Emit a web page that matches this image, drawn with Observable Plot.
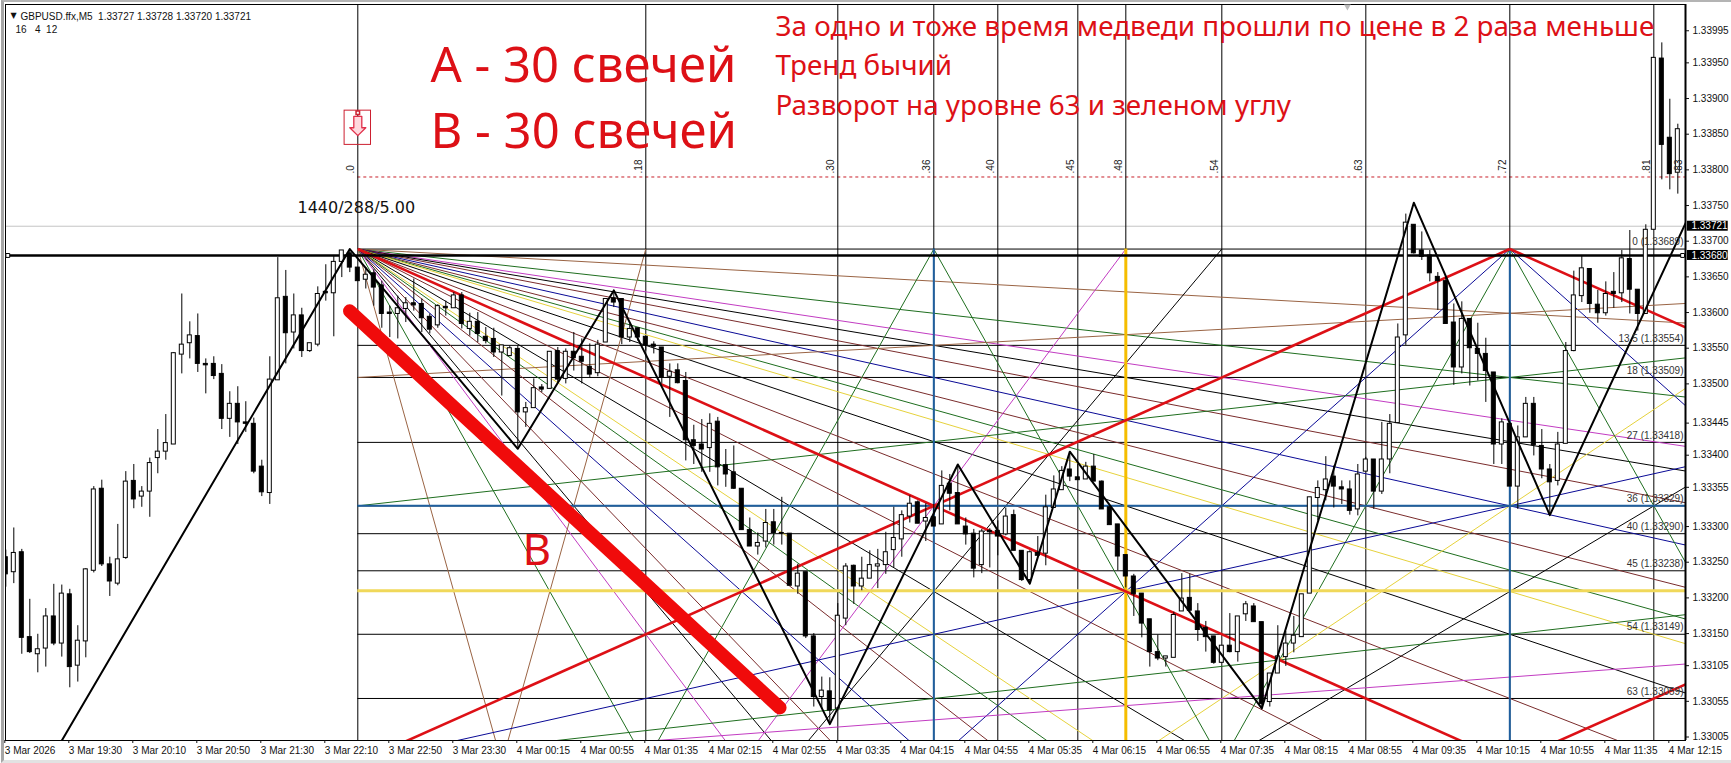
<!DOCTYPE html>
<html>
<head>
<meta charset="utf-8">
<style>
html,body{margin:0;padding:0;background:#fff;overflow:hidden}
#wrap{position:relative;width:1731px;height:763px;overflow:hidden}
#wrap svg{display:block}
#edge{position:absolute;left:1px;top:0;right:0;bottom:0;border-left:3px solid #a6a6a6;border-top:2px solid #b4b4b4;border-bottom:3px solid #e2e2e2;pointer-events:none}
</style>
<script src="https://cdn.jsdelivr.net/npm/d3@7"></script>
<script src="https://cdn.jsdelivr.net/npm/@observablehq/plot@0.6"></script>
</head>
<body>
<div id="wrap"><div id="edge"></div></div>
<script>
// Candle values, in points: 33689 stands for 1.33689
const opens=[33257,33236,33264,33145,33121,33129,33174,33136,33205,33105,33139,33238,33353,33247,33220,33256,33364,33342,33349,33396,33405,33415,33541,33557,33567,33528,33528,33514,33451,33472,33446,33444,33384,33347,33505,33622,33572,33596,33546,33555,33629,33627,33671,33683,33663,33646,33655,33638,33600,33598,33605,33613,33612,33594,33582,33608,33606,33624,33577,33587,33566,33563,33544,33539,33549,33460,33466,33495,33493,33546,33507,33545,33538,33524,33515,33558,33620,33619,33565,33578,33566,33555,33551,33510,33519,33504,33421,33415,33410,33447,33386,33376,33353,33295,33272,33279,33306,33291,33290,33216,33236,33146,33061,33069,33045,33171,33245,33216,33227,33244,33246,33267,33282,33314,33334,33307,33313,33303,33360,33347,33300,33290,33246,33294,33294,33289,33316,33266,33225,33263,33262,33326,33351,33380,33369,33366,33384,33363,33327,33303,33260,33230,33206,33170,33124,33115,33116,33181,33200,33181,33158,33146,33109,33133,33124,33177,33188,33166,33054,33094,33117,33136,33145,33206,33340,33351,33370,33355,33352,33324,33377,33394,33349,33394,33445,33568,33723,33687,33680,33650,33644,33586,33523,33591,33549,33542,33516,33415,33444,33356,33425,33472,33413,33380,33364,33416,33546,33623,33661,33611,33599,33629,33627,33675,33632,33598,33716,33956,33845,33796];
const closes=[33233,33263,33144,33124,33128,33174,33136,33206,33103,33140,33240,33352,33247,33223,33254,33363,33338,33349,33389,33405,33417,33543,33555,33568,33528,33526,33511,33451,33472,33446,33444,33377,33348,33506,33620,33571,33596,33546,33557,33626,33627,33671,33687,33663,33644,33653,33635,33598,33598,33606,33613,33610,33592,33576,33609,33606,33624,33584,33587,33570,33560,33544,33554,33550,33460,33466,33494,33492,33545,33506,33545,33536,33531,33513,33555,33619,33614,33565,33577,33565,33554,33552,33509,33517,33501,33421,33413,33408,33444,33383,33373,33353,33295,33272,33277,33305,33291,33290,33217,33234,33146,33061,33070,33042,33175,33244,33216,33227,33246,33247,33264,33284,33316,33332,33304,33312,33300,33357,33346,33303,33289,33241,33293,33292,33286,33314,33266,33225,33264,33259,33327,33352,33378,33370,33365,33384,33363,33324,33302,33258,33230,33205,33164,33124,33115,33118,33176,33199,33182,33155,33145,33109,33133,33124,33174,33191,33166,33051,33094,33118,33136,33147,33205,33341,33354,33366,33356,33352,33322,33373,33394,33349,33394,33444,33565,33726,33683,33678,33655,33644,33584,33523,33591,33550,33542,33518,33415,33446,33356,33425,33472,33414,33380,33362,33415,33546,33624,33662,33612,33599,33626,33626,33676,33632,33598,33716,33957,33835,33794,33857];
const highs=[33267,33298,33268,33198,33149,33185,33219,33218,33212,33161,33241,33356,33365,33257,33303,33377,33387,33356,33396,33436,33457,33544,33626,33587,33598,33535,33538,33527,33489,33496,33475,33452,33393,33538,33677,33659,33626,33606,33557,33636,33667,33680,33687,33689,33663,33663,33660,33644,33609,33623,33621,33647,33619,33598,33611,33616,33628,33628,33599,33600,33579,33578,33554,33553,33553,33474,33507,33499,33545,33551,33549,33572,33563,33556,33561,33619,33631,33619,33584,33578,33566,33559,33551,33528,33528,33516,33442,33450,33458,33453,33408,33413,33353,33312,33291,33324,33324,33341,33290,33247,33236,33150,33089,33088,33192,33248,33246,33257,33266,33268,33292,33327,33322,33343,33336,33332,33331,33378,33373,33386,33312,33296,33296,33297,33308,33326,33323,33266,33266,33286,33344,33371,33384,33405,33387,33390,33401,33364,33328,33303,33260,33233,33206,33170,33148,33118,33180,33234,33233,33192,33167,33146,33133,33178,33174,33195,33192,33166,33094,33161,33153,33174,33205,33341,33364,33398,33385,33364,33364,33387,33397,33394,33446,33457,33584,33738,33723,33713,33687,33656,33649,33612,33615,33591,33585,33564,33516,33451,33444,33441,33481,33481,33436,33387,33432,33558,33658,33680,33661,33631,33643,33656,33687,33715,33632,33723,33957,33978,33899,33864];
const lows=[33215,33220,33121,33122,33095,33103,33133,33117,33074,33082,33116,33235,33244,33202,33217,33254,33325,33327,33313,33374,33393,33415,33514,33535,33516,33486,33506,33436,33425,33415,33432,33374,33342,33331,33505,33528,33549,33537,33544,33552,33616,33566,33649,33656,33644,33633,33609,33578,33565,33563,33586,33602,33572,33570,33578,33595,33606,33577,33567,33558,33556,33537,33483,33538,33411,33439,33466,33488,33493,33502,33500,33518,33500,33509,33510,33558,33607,33555,33558,33560,33546,33542,33500,33453,33500,33392,33387,33376,33376,33357,33355,33352,33295,33272,33260,33270,33274,33274,33217,33205,33143,33047,33044,33025,33041,33161,33191,33210,33227,33213,33233,33242,33257,33305,33304,33279,33300,33303,33322,33303,33274,33228,33234,33242,33259,33287,33266,33223,33220,33259,33245,33326,33351,33363,33365,33366,33363,33324,33302,33238,33214,33174,33144,33103,33112,33103,33116,33181,33182,33139,33124,33107,33109,33123,33110,33167,33166,33046,33047,33094,33104,33123,33145,33206,33308,33336,33326,33331,33316,33315,33377,33324,33345,33374,33445,33554,33682,33673,33643,33603,33584,33498,33514,33497,33504,33474,33387,33387,33356,33324,33425,33399,33367,33317,33357,33416,33545,33614,33599,33585,33595,33606,33614,33598,33574,33598,33716,33786,33772,33766];
const timeLabels=["3 Mar 2026","3 Mar 19:30","3 Mar 20:10","3 Mar 20:50","3 Mar 21:30","3 Mar 22:10","3 Mar 22:50","3 Mar 23:30","4 Mar 00:15","4 Mar 00:55","4 Mar 01:35","4 Mar 02:15","4 Mar 02:55","4 Mar 03:35","4 Mar 04:15","4 Mar 04:55","4 Mar 05:35","4 Mar 06:15","4 Mar 06:55","4 Mar 07:35","4 Mar 08:15","4 Mar 08:55","4 Mar 09:35","4 Mar 10:15","4 Mar 10:55","4 Mar 11:35","4 Mar 12:15"];
const priceTicks=[33995,33950,33900,33850,33800,33750,33700,33650,33600,33550,33500,33445,33400,33355,33300,33250,33200,33150,33105,33055,33005];
// Gann levels
const levelNames=["0","13.5","18","27","36","40","45","54","63"];
const levelPts=[33689,33554,33509,33418,33329,33290,33238,33149,33059];
const yellowLevel=33210, dashedLevel=33790, bidLevel=33721, lineLevel=33680;
const timeCounts=[0,18,30,36,40,45,48,54,63,72,81,83];
const apexBar=44, topPts=33689, bottomPts=32969, ptsPerBar=5;
// Fan from the top-left corner
const fanRatios=[1/8,1/4,1/3,3/8,3/7,1/2,4/7,5/8,2/3,3/4,7/8,8/7,4/3,3/2,8/5,7/4,2,7/3,8/3,3,4,8];
const fanNames=["brown","green","magenta","black","maroon","navy","maroon","green","yellow","black","maroon","maroon","black","yellow","green","maroon","navy","maroon","black","magenta","green","brown"];
// Rebound legs: start bar at the bottom, end bar at the top
const riseStart=[62,80,152,92,98,116,140,152];
const riseEnd=[80,116,188,140,152,188,236,260];
const riseNames=["brown","green","green","magenta","black","navy","yellow","black"];
// Legs falling again from the top
const fallStart=[116,188];
const fallEnd=[152,224];
const fallNames=["green","green"];
const fallBlueStart=188, fallBlueEnd=260;
// Shallow rising rays: start points and slope per bar
const rayStartPts=[33509,33329,32969,32969,32969];
const raySlopes=[0.625,1.25,1.25,2.5,0.8333];
const rayNames=["brown","green","green","navy","magenta"];
// Zigzag
const zigBars=[7,43,64,76,103,119,128,133,157,176,193,210];
const zigPts=[33000,33689,33409,33631,33023,33387,33220,33405,33045,33754,33316,33726];
// Thick annotation stroke
const strokeBars=[43,96.75];
const strokePts=[33602,33046];
// Arrow marker outline
const arrowBars=[43.5,44.5,44.5,45,44,43,43.5,43.5];
const arrowPts=[33875,33875,33859,33859,33848,33859,33859,33875];

const palette={brown:"#9a6444",green:"#1f6e1f",magenta:"#c23cc2",black:"#000",maroon:"#7a2c2c",navy:"#0a0a96",yellow:"#e6d23c",red:"#dd1016"};
const price=p=>1+p/1e5;
const xMax=209.96;

const links=[];
fanRatios.forEach((r,i)=>{links.push({a:apexBar,b:price(topPts),c:apexBar+240,d:price(topPts-240*ptsPerBar*r),z:fanNames[i]});});
riseStart.forEach((s,i)=>links.push({a:s,b:price(bottomPts),c:riseEnd[i],d:price(topPts),z:riseNames[i]}));
fallStart.forEach((s,i)=>links.push({a:s,b:price(topPts),c:fallEnd[i],d:price(bottomPts),z:fallNames[i]}));
links.push({a:fallBlueStart,b:price(topPts),c:fallBlueEnd,d:price(bottomPts),z:"navy"});
rayStartPts.forEach((p,i)=>links.push({a:apexBar,b:price(p),c:apexBar+240,d:price(p+240*raySlopes[i]),z:rayNames[i]}));

const candles=opens.map((o,i)=>({i,o:price(o),c:price(closes[i]),h:price(highs[i]),l:price(lows[i]),up:closes[i]>=o}));
const levels=levelPts.map((p,i)=>({p:price(p),name:levelNames[i]+" ("+price(p).toFixed(5)+")"}));
const zig=zigBars.map((b,i)=>({b,p:price(zigPts[i])}));
const big=strokeBars.map((b,i)=>({b,p:price(strokePts[i])}));
const arrow=arrowBars.map((b,i)=>({b,p:price(arrowPts[i])}));
const red=[
  {a:44,b:price(33689),c:188,d:price(32969)},
  {a:44,b:price(32969),c:188,d:price(33689)},
  {a:188,b:price(33689),c:332,d:price(32969)},
  {a:188,b:price(32969),c:332,d:price(33689)}
];
const ui='"Liberation Sans",Arial,sans-serif';
const big1='"Noto Sans","Open Sans",sans-serif';
const noteAt=(text,dx,dy,size,extra={})=>Plot.text([text],{frameAnchor:"top-left",dx,dy,text:d=>d,textAnchor:"start",lineAnchor:"middle",fontSize:size,fill:palette.red,fontFamily:big1,...extra});

const chart=Plot.plot({
  width:1731,height:763,
  marginLeft:5,marginRight:46,marginTop:4,marginBottom:23,
  style:{background:"transparent",fontFamily:ui,fontSize:"10px",color:"#111"},
  x:{domain:[-0.0375,xMax]},
  y:{domain:[price(33000.1),price(34031.8)]},
  marks:[
    Plot.ruleY([bidLevel].map(price),{stroke:"#c4c4c4"}),
    Plot.ruleY([dashedLevel].map(price),{x1:apexBar,x2:xMax,stroke:"#c8202a",strokeDasharray:"3,3"}),
    Plot.ruleX(timeCounts.filter(t=>t<83).map(t=>apexBar+2*t),{stroke:"#000"}),
    Plot.ruleY(levels,{y:"p",x1:apexBar,x2:xMax,stroke:"#000"}),
    Plot.link(links,{x1:"a",y1:"b",x2:"c",y2:"d",stroke:d=>palette[d.z],strokeWidth:1,clip:true}),
    Plot.ruleY([yellowLevel].map(price),{x1:apexBar,x2:xMax,stroke:"#f0d85a",strokeWidth:3}),
    Plot.ruleY([price(33329)],{x1:apexBar,x2:xMax,stroke:"#1f5f9e",strokeWidth:2}),
    Plot.ruleX([116,188],{y1:price(33689),y2:price(33000.1),stroke:"#1f5f9e",strokeWidth:2}),
    Plot.ruleX([140],{y1:price(33689),y2:price(33000.1),stroke:"#f5bd00",strokeWidth:3}),
    Plot.link(red,{x1:"a",y1:"b",x2:"c",y2:"d",stroke:palette.red,strokeWidth:2.6,clip:true}),
    Plot.ruleY([lineLevel].map(price),{stroke:"#000",strokeWidth:2.4}),
    Plot.ruleX(candles,{x:"i",y1:"l",y2:"h",stroke:"#000",strokeWidth:1,clip:true}),
    Plot.rect(candles,{x1:d=>d.i-0.25,x2:d=>d.i+0.25,y1:"o",y2:"c",fill:d=>d.up?"#fff":"#000",stroke:"#000",strokeWidth:1,clip:true}),
    Plot.line(zig,{x:"b",y:"p",stroke:"#000",strokeWidth:2,clip:true}),
    Plot.line(big,{x:"b",y:"p",stroke:"#f00b0b",strokeWidth:13.5,strokeLinecap:"round"}),
    Plot.frame({stroke:"#000"}),
    Plot.ruleX([xMax],{stroke:"#000",strokeWidth:2}),
    Plot.axisX({anchor:"bottom",ticks:timeLabels.map((_,i)=>i*8),tickFormat:d=>timeLabels[d/8],tickSize:3,tickPadding:3,textAnchor:"start",label:null,dx:-1,fill:"#111"}),
    Plot.axisY({anchor:"right",ticks:priceTicks.map(price),tickFormat:d=>d.toFixed(5),tickSize:3,tickPadding:4,label:null,fill:"#111"}),
    Plot.rect([bidLevel,lineLevel],{x1:210.2,x2:215.3,y1:d=>price(d+7),y2:d=>price(d-7),fill:"#000"}),
    Plot.text([bidLevel,lineLevel],{x:210.7,y:price,text:d=>price(d).toFixed(5),textAnchor:"start",fill:"#fff",fontSize:10}),
    Plot.dot([0.25,209.6],{x:d=>d,y:()=>price(lineLevel),symbol:"square",r:2.2,fill:"#fff",stroke:"#000",strokeWidth:1}),
    Plot.text(levels,{x:xMax,y:"p",text:"name",textAnchor:"end",dx:-2,dy:-7,fontSize:10,fill:"#333"}),
    Plot.text(timeCounts,{x:t=>apexBar+2*t,y:()=>price(33795),text:t=>"."+t,rotate:-90,textAnchor:"start",dx:-7,fontSize:10,fill:"#222"}),
    Plot.rect([0],{x1:apexBar-1.65,x2:apexBar+1.65,y1:price(33835),y2:price(33883),stroke:"#cc2030",fill:"none",strokeWidth:1}),
    Plot.line(arrow,{x:"b",y:"p",stroke:"#e0304a",strokeWidth:1.3,fill:"#ffd8de"}),
    Plot.dot([0],{x:apexBar,y:price(33880),symbol:"square",r:2,stroke:"#cc2030",fill:"#fff"}),
    Plot.dot([0],{x:167.7,y:price(34029),symbol:"triangle",rotate:180,r:2.5,fill:"#bdbdbd",stroke:"none"}),
    Plot.text(["▼"],{frameAnchor:"top-left",dx:5,dy:8,text:d=>d,textAnchor:"start",fontSize:8,fill:"#111",fontFamily:"DejaVu Sans"}),
    Plot.text(["GBPUSD.ffx,M5  1.33727 1.33728 1.33720 1.33721"],{frameAnchor:"top-left",dx:15,dy:8,text:d=>d,textAnchor:"start",fontSize:10,fill:"#111"}),
    Plot.text(["16   4  12"],{frameAnchor:"top-left",dx:10,dy:21,text:d=>d,textAnchor:"start",fontSize:10,fill:"#111"}),
    Plot.text(["1440/288/5.00"],{frameAnchor:"top-left",dx:292,dy:197,text:d=>d,textAnchor:"start",fontSize:16,fill:"#111",fontFamily:"DejaVu Sans"}),
    noteAt("А - 30 свечей",425,62,49),
    noteAt("В - 30 свечей",425,128,49),
    noteAt("В",517,546,44),
    noteAt("За одно и тоже время медведи прошли по цене в 2 раза меньше",770,23,27.8),
    noteAt("Тренд бычий",770,62,27.8),
    noteAt("Разворот на уровне 63 и зеленом углу",770,102,27.8)
  ]
});
document.getElementById("wrap").prepend(chart);
</script>
</body>
</html>
